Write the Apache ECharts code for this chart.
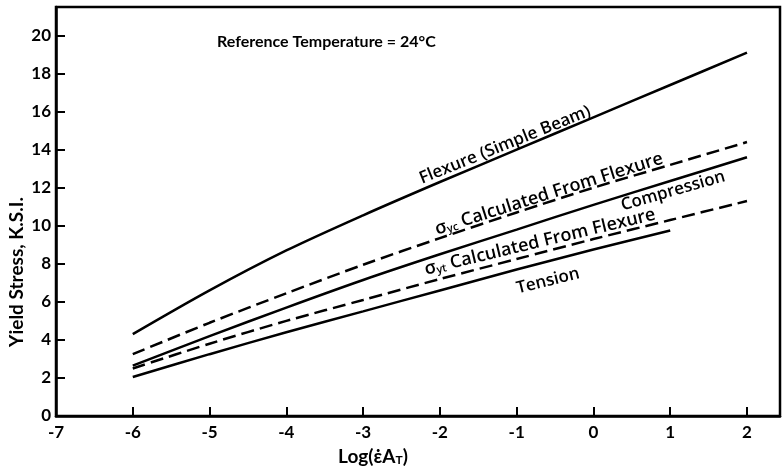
<!DOCTYPE html>
<html>
<head>
<meta charset="utf-8">
<script src="https://cdn.jsdelivr.net/npm/echarts@6/dist/echarts.min.js"></script>
<style>
html,body{margin:0;padding:0;background:#fff;}
#c{width:783px;height:473px;}
</style>
</head>
<body>
<div id="c"></div>
<script>
// x values (Log of reduced strain rate)
const logRate = [-6, -5, -4, -3, -2, -1, 0, 1, 2];
const logRateTension = [-6, -5, -4, -3, -2, -1, 0, 1];
// Yield stress, K.S.I.
const flexure = [4.3, 6.6, 8.7, 10.55, 12.3, 14.0, 15.7, 17.4, 19.1];
const sigmaYcFromFlexure = [3.25, 4.9, 6.45, 7.95, 9.35, 10.7, 12.0, 13.2, 14.4];
const compression = [2.65, 4.2, 5.7, 7.15, 8.5, 9.8, 11.1, 12.35, 13.6];
const sigmaYtFromFlexure = [2.5, 3.8, 5.0, 6.1, 7.2, 8.25, 9.3, 10.3, 11.3];
const tension = [2.05, 3.25, 4.4, 5.5, 6.6, 7.7, 8.75, 9.75];

const xTicks = [-7, -6, -5, -4, -3, -2, -1, 0, 1, 2];
const yTicks = [0, 2, 4, 6, 8, 10, 12, 14, 16, 18, 20];

const FONT = 'Lato';
const LFONT = 'Open Sans';
const pair = (xs, ys) => xs.map((x, i) => [x, ys[i]]);

const chart = echarts.init(document.getElementById('c'), null, {renderer: 'canvas'});

function lineSeries(name, xs, ys, dashed) {
  return {
    name: name, type: 'line', data: pair(xs, ys), smooth: 0.3, symbol: 'none',
    lineStyle: {color: '#000', width: 2.5, type: dashed ? [13, 6] : 'solid'},
    emphasis: {disabled: true}, silent: true
  };
}

const sigmaRich = {
  s: {fontFamily: LFONT, fontSize: 18, fontWeight: 600, fill: '#000'},
  sub: {fontFamily: LFONT, fontSize: 11, fontWeight: 600, fill: '#000', verticalAlign: 'bottom', padding: [7, 0, 0, 0]}
};
const titleRich = {
  s: {fontFamily: FONT, fontSize: 19, fontWeight: 'bold', fill: '#000'},
  sub: {fontFamily: FONT, fontSize: 12, fontWeight: 'bold', fill: '#000', verticalAlign: 'bottom', padding: [7, 0, 0, 0]}
};

function label(text, x, y, deg, rich) {
  return {
    type: 'text', x: x, y: y, rotation: deg * Math.PI / 180, silent: true,
    style: {
      text: text, fill: '#000', font: '600 17px "' + LFONT + '"',
      align: 'center', verticalAlign: 'middle', rich: rich
    }
  };
}

chart.setOption({
  animation: false,
  backgroundColor: '#fff',
  grid: {left: 56, right: 0, top: 7, bottom: 57, show: true, borderColor: '#000', borderWidth: 2.5, backgroundColor: 'transparent'},
  xAxis: {
    type: 'value', min: -7, max: 2.43, interval: 1,
    axisLine: {show: true, onZero: false, lineStyle: {color: '#000', width: 2.5}},
    axisTick: {show: true, inside: true, length: 9, lineStyle: {color: '#000', width: 2}},
    axisLabel: {
      show: true, margin: 8, color: '#000', fontFamily: FONT, fontWeight: 'bold', fontSize: 17,
      formatter: v => xTicks.includes(v) ? String(v) : ''
    },
    splitLine: {show: false}
  },
  yAxis: {
    type: 'value', min: 0, max: 21.5, interval: 2,
    axisLine: {show: true, onZero: false, lineStyle: {color: '#000', width: 2.5}},
    axisTick: {show: true, inside: true, length: 9, lineStyle: {color: '#000', width: 2}},
    axisLabel: {
      show: true, margin: 5, color: '#000', fontFamily: FONT, fontWeight: 'bold', fontSize: 17,
      formatter: v => yTicks.includes(v) ? String(v) : ''
    },
    splitLine: {show: false}
  },
  series: [
    lineSeries('Flexure (Simple Beam)', logRate, flexure, false),
    lineSeries('σyc Calculated From Flexure', logRate, sigmaYcFromFlexure, true),
    lineSeries('Compression', logRate, compression, false),
    lineSeries('σyt Calculated From Flexure', logRate, sigmaYtFromFlexure, true),
    lineSeries('Tension', logRateTension, tension, false)
  ],
  graphic: [
    {type: 'text', x: 217, y: 42, silent: true,
     style: {text: 'Reference Temperature = 24°C', fill: '#000', font: 'bold 16px ' + FONT, align: 'left', verticalAlign: 'middle'}},
    {type: 'text', x: 17, y: 272, rotation: Math.PI / 2, silent: true,
     style: {text: 'Yield Stress, K.S.I.', fill: '#000', font: 'bold 19px ' + FONT, align: 'center', verticalAlign: 'middle'}},
    {type: 'text', x: 373, y: 457, silent: true,
     style: {text: '{s|Log(ε̇A}{sub|T}{s|)}', fill: '#000', font: 'bold 19px ' + FONT, align: 'center', verticalAlign: 'middle', rich: titleRich}},
    label('Flexure (Simple Beam)', 505, 145, 22),
    label('{s|σ}{sub|yc}{s| Calculated From Flexure}', 549, 194, 17.5, sigmaRich),
    label('Compression', 673, 191, 16),
    label('{s|σ}{sub|yt}{s| Calculated From Flexure}', 540, 242, 13.5, sigmaRich),
    label('Tension', 548, 281, 14)
  ]
});
</script>
</body>
</html>
